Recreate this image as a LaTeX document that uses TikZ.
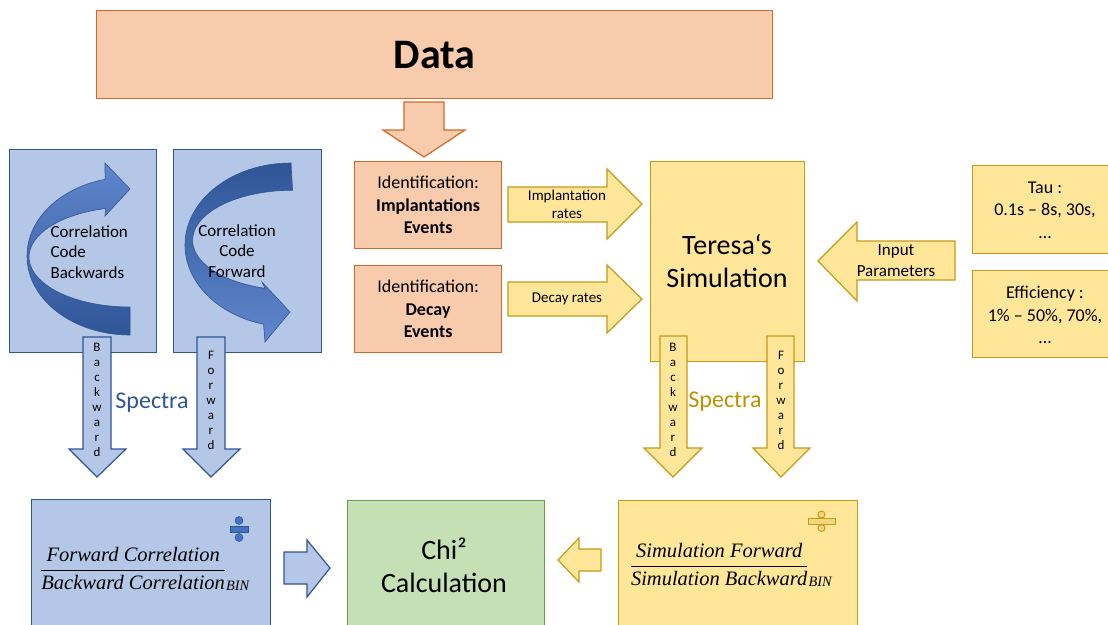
\documentclass[tikz,border=0pt]{standalone}
\usepackage{amsmath}
\usepackage{fontspec}
\setmainfont{Carlito}
\newfontfamily\eqfont{Liberation Serif}
\usepackage{tikz}
\usepackage{xcolor}
\usetikzlibrary{positioning}
\definecolor{Peach}{HTML}{F8CBAD}
\definecolor{PeachLine}{HTML}{D06A2A}
\definecolor{SkyFill}{HTML}{B4C7E7}
\definecolor{SkyLine}{HTML}{2F5597}
\definecolor{SkyArrow}{HTML}{4472C4}
\definecolor{GoldFill}{HTML}{FFE699}
\definecolor{GoldLine}{HTML}{C59A17}
\definecolor{GoldText}{HTML}{BF9000}
\definecolor{MintFill}{HTML}{C5E0B4}
\definecolor{MintLine}{HTML}{6A9F45}

\begin{document}
\begin{tikzpicture}[x=1pt, y=-1pt, line join=miter,
    orgbox/.style={draw=PeachLine, fill=Peach, line width=1.2pt, anchor=north west},
    blubox/.style={draw=SkyLine, fill=SkyFill, line width=1.2pt, anchor=north west},
    yelbox/.style={draw=GoldLine, fill=GoldFill, line width=1.2pt, anchor=north west},
    grnbox/.style={draw=MintLine, fill=MintFill, line width=1.2pt, anchor=north west},
    orgarrow/.style={draw=PeachLine, fill=Peach, line width=1.2pt},
    bluarrow/.style={draw=SkyLine, fill=SkyFill, line width=1.2pt},
    yelarrow/.style={draw=GoldLine, fill=GoldFill, line width=1.2pt},
    letters/.style={font=\fontsize{13}{15}\selectfont, align=center, inner sep=0pt},
    boxtext/.style={font=\fontsize{18}{22.5}\selectfont, align=center, inner sep=0pt},
    ratiotext/.style={font=\eqfont\itshape\fontsize{20.5}{24}\selectfont}]
    \useasboundingbox (0,0) rectangle (1108,624);

    % Data source
    \node[orgbox, minimum width=676pt, minimum height=88pt] (data) at (96,10) {};
    \node[font=\fontsize{42}{46}\selectfont\bfseries] (datatxt) at (data.center) {Data};
    \draw[orgarrow] (404,102) -- (444,102) -- (444,130) -- (465,130) -- (424,157)
        -- (383,130) -- (404,130) -- cycle;

    % Identification boxes
    \node[orgbox, minimum width=147pt, minimum height=87pt] (idimp) at (354,161) {};
    \node[boxtext] (idimptxt) at (idimp.center) {Identification:\\\textbf{Implantations}\\\textbf{Events}};
    \node[orgbox, minimum width=147pt, minimum height=87pt] (iddec) at (354,265) {};
    \node[boxtext] (iddectxt) at (iddec.center) {Identification:\\\textbf{Decay}\\\textbf{Events}};

    % Rates into the simulation
    \draw[yelarrow] (508,187) -- (607,187) -- (607,169) -- (642,204) -- (607,239)
        -- (607,222) -- (508,222) -- cycle;
    \node[font=\fontsize{15}{18}\selectfont, align=center] (imprate) at (567,204) {Implantation\\rates};
    \draw[yelarrow] (508,282) -- (607,282) -- (607,265) -- (642,299) -- (607,333)
        -- (607,316) -- (508,316) -- cycle;
    \node[font=\fontsize{15}{18}\selectfont] (decrate) at (567,299) {Decay rates};

    % Simulation
    \node[yelbox, minimum width=154pt, minimum height=200pt] (teresa) at (650,161) {};
    \node[font=\fontsize{28}{33}\selectfont, align=center] (teresatxt) at (727,261) {Teresa‘s\\Simulation};

    % Parameters
    \node[yelbox, minimum width=146pt, minimum height=88pt] (tau) at (972,165) {};
    \node[boxtext] (tautxt) at (1045,210) {Tau :\\0.1s – 8s, 30s,\\…};
    \node[yelbox, minimum width=146pt, minimum height=87pt] (eff) at (972,270) {};
    \node[boxtext] (efftxt) at (1045,315) {Efficiency :\\1\% – 50\%, 70\%,\\…};
    \draw[yelarrow] (955,241) -- (857,241) -- (857,222) -- (818,261) -- (857,301)
        -- (857,280) -- (955,280) -- cycle;
    \node[font=\fontsize{17}{21}\selectfont, align=center] (inputtxt) at (896,261) {Input\\Parameters};

    % Correlation codes
    \node[blubox, minimum width=147pt, minimum height=203pt] (corrbwd) at (9,149) {};
    \node[blubox, minimum width=148pt, minimum height=203pt] (corrfwd) at (173,149) {};
    \shade[top color=SkyArrow!85!white, bottom color=SkyLine, draw=SkyLine, line width=0.6pt]
        (130,335) arc[start angle=90, end angle=256, x radius=103, y radius=79]
        -- (105,163) -- (130,189) -- (105,216) -- (105.6,208.5)
        arc[start angle=256, end angle=90, x radius=101, y radius=50] -- cycle;
    \shade[top color=SkyLine, bottom color=SkyArrow!85!white, draw=SkyLine, line width=0.6pt]
        (291,163) arc[start angle=270, end angle=105, x radius=106, y radius=82]
        -- (265,342) -- (290,312) -- (262,282) -- (265,288.3)
        arc[start angle=106, end angle=270, x radius=100, y radius=50] -- cycle;
    \node[font=\fontsize{17}{20.5}\selectfont, align=left, anchor=west] (bwdtxt) at (47,252) {Correlation\\Code\\Backwards};
    \node[font=\fontsize{17}{20.5}\selectfont, align=center] (fwdtxt) at (237,251) {Correlation\\Code\\Forward};

    % Spectra, correlation side
    \draw[bluarrow] (83,337) -- (111,337) -- (111,449) -- (126,449) -- (97,477)
        -- (69,449) -- (83,449) -- cycle;
    \node[letters] (bwdlet) at (97,400) {B\\a\\c\\k\\w\\a\\r\\d};
    \draw[bluarrow] (197,337) -- (225,337) -- (225,449) -- (240,449) -- (211,477)
        -- (183,449) -- (197,449) -- cycle;
    \node[letters] (fwdlet) at (211,400) {F\\o\\r\\w\\a\\r\\d};
    \node[font=\fontsize{24}{28}\selectfont, text=SkyLine] (spectrabl) at (152,403) {Spectra};

    % Spectra, simulation side
    \draw[yelarrow] (660,336) -- (687,336) -- (687,448) -- (702,448) -- (673,477)
        -- (644,448) -- (660,448) -- cycle;
    \node[letters] (simbwdlet) at (673,400) {B\\a\\c\\k\\w\\a\\r\\d};
    \draw[yelarrow] (767,336) -- (794,336) -- (794,448) -- (810,448) -- (781,477)
        -- (753,448) -- (767,448) -- cycle;
    \node[letters] (simfwdlet) at (781,400) {F\\o\\r\\w\\a\\r\\d};
    \node[font=\fontsize{24}{28}\selectfont, text=GoldText] (spectrayl) at (725,402) {Spectra};

    % Ratios
    \node[blubox, minimum width=239pt, minimum height=140pt] (ratiocorr) at (31,499) {};
    \node[ratiotext] (ratiocorrtxt) at (145,569)
        {$\genfrac{}{}{1.5pt}{0}{\text{\itshape Forward Correlation}}{\text{\itshape Backward Correlation}}_{\text{\itshape BIN}}$};
    \filldraw[fill=SkyArrow, draw=SkyLine, line width=0.5pt] (230,526) rectangle (248,532);
    \filldraw[fill=SkyArrow, draw=SkyLine, line width=0.5pt] (239,520.5) circle (4);
    \filldraw[fill=SkyArrow, draw=SkyLine, line width=0.5pt] (239,537.5) circle (4);

    \node[yelbox, minimum width=239pt, minimum height=140pt] (ratiosim) at (618,500) {};
    \node[ratiotext] (ratiosimtxt) at (731,565)
        {$\genfrac{}{}{1.5pt}{0}{\text{\itshape Simulation Forward}}{\text{\itshape Simulation Backward}}_{\text{\itshape BIN}}$};
    \filldraw[fill=GoldFill!80!GoldLine, draw=GoldLine, line width=1pt] (808,518.5) rectangle (835,524);
    \filldraw[fill=GoldFill!80!GoldLine, draw=GoldLine, line width=1pt] (821.5,514.5) circle (3.5);
    \filldraw[fill=GoldFill!80!GoldLine, draw=GoldLine, line width=1pt] (821.5,528) circle (3.5);

    % Chi2
    \node[grnbox, minimum width=197pt, minimum height=140pt] (chi) at (347,500) {};
    \node[font=\fontsize{28}{33}\selectfont, align=center] (chitxt) at (444,565) {Chi²\\Calculation};
    \draw[bluarrow] (284,552) -- (307,552) -- (307,540) -- (330,568) -- (307,597)
        -- (307,584) -- (284,584) -- cycle;
    \draw[yelarrow] (601,549) -- (579,549) -- (579,538) -- (558,560) -- (579,582)
        -- (579,571) -- (601,571) -- cycle;

\end{tikzpicture}
\end{document}
